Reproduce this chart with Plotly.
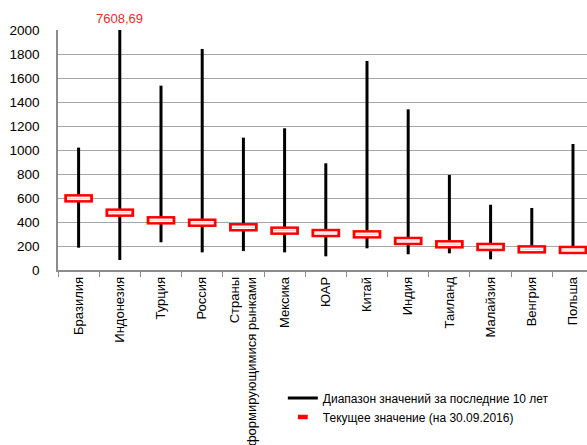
import plotly.graph_objects as go

# Index levels by market: 10-year range and current value
countries = ["Бразилия", "Индонезия", "Турция", "Россия",
             "Страны<br>с формирующимися рынками", "Мексика", "ЮАР", "Китай",
             "Индия", "Таиланд", "Малайзия", "Венгрия", "Польша"]
range_low = [186, 83, 231, 147, 158, 147, 114, 181, 131, 139, 89, 165, 160]
range_high = [1020, 7608.69, 1536, 1842, 1103, 1181, 889, 1742, 1339, 792, 544, 517, 1050]
current = [597, 478, 414, 394, 356, 328, 308, 297, 242, 214, 192, 172, 167]

y_ticks = [0, 200, 400, 600, 800, 1000, 1200, 1400, 1600, 1800, 2000]
y_max = 2000

FONT = "Liberation Sans, Arial, sans-serif"
RED = "#ff0000"

fig = go.Figure()

# vertical range lines, one segment per market
seg_x, seg_y = [], []
for c, lo, hi in zip(countries, range_low, range_high):
    seg_x += [c, c, None]
    seg_y += [lo, hi, None]
fig.add_trace(go.Scatter(
    x=seg_x, y=seg_y, mode="lines", connectgaps=False,
    line=dict(color="black", width=3), showlegend=False, hoverinfo="skip"))

# current value: red outlined dash with white core
fig.add_trace(go.Scatter(
    x=countries, y=current, mode="markers", showlegend=False,
    marker=dict(symbol="line-ew", size=20.5, color=RED,
                line=dict(color=RED, width=8.5))))
fig.add_trace(go.Scatter(
    x=countries, y=current, mode="markers", showlegend=False, hoverinfo="skip",
    marker=dict(symbol="line-ew", size=16.5, color="white",
                line=dict(color="white", width=3.5))))
fig.add_trace(go.Scatter(
    x=countries, y=current, mode="markers", showlegend=False, hoverinfo="skip",
    marker=dict(symbol="line-ew", size=15, color="#ffd0d0",
                line=dict(color="#ffd0d0", width=1))))

# legend entries
fig.add_trace(go.Scatter(
    x=[None], y=[None], mode="lines", name="Диапазон значений за последние 10 лет",
    line=dict(color="black", width=3)))
fig.add_trace(go.Scatter(
    x=[None], y=[None], mode="markers", name="Текущее значение (на 30.09.2016)",
    marker=dict(symbol="line-ew", size=7, color=RED,
                line=dict(color=RED, width=4.5))))

# label for the off-scale maximum
over = [(c, hi) for c, hi in zip(countries, range_high) if hi > y_max]
for c, hi in over:
    fig.add_annotation(
        x=c, y=y_max, yref="y", text=f"{hi:.2f}".replace(".", ","),
        showarrow=False, yanchor="bottom", yshift=2,
        font=dict(family=FONT, size=13, color="#e0302c"))

fig.update_layout(
    width=587, height=445,
    margin=dict(l=58, r=0, t=30, b=175, autoexpand=False),
    paper_bgcolor="white", plot_bgcolor="white",
    font=dict(family=FONT, size=13, color="black"),
    showlegend=True,
    legend=dict(x=0.425, y=-0.473, xanchor="left", yanchor="top",
                bgcolor="rgba(0,0,0,0)", font=dict(family=FONT, size=12),
                tracegroupgap=0, itemwidth=30),
)
fig.update_xaxes(
    type="category", categoryorder="array", categoryarray=countries,
    range=[-0.5, 12.34], tickangle=-90, ticks="outside", tickson="boundaries",
    ticklen=5, tickcolor="#8c8c8c", showline=True, linecolor="#8c8c8c",
    linewidth=1.5, showgrid=False, automargin=False,
    tickfont=dict(family=FONT, size=13))
fig.update_yaxes(
    range=[0, y_max], tickvals=y_ticks, showline=True, linecolor="#8c8c8c",
    linewidth=1.5, showgrid=True, gridcolor="#a6a6a6", gridwidth=1.2,
    zeroline=False, ticks="", ticklabelstandoff=14, automargin=False,
    tickfont=dict(family=FONT, size=13.5))

fig.write_html("out.html")
